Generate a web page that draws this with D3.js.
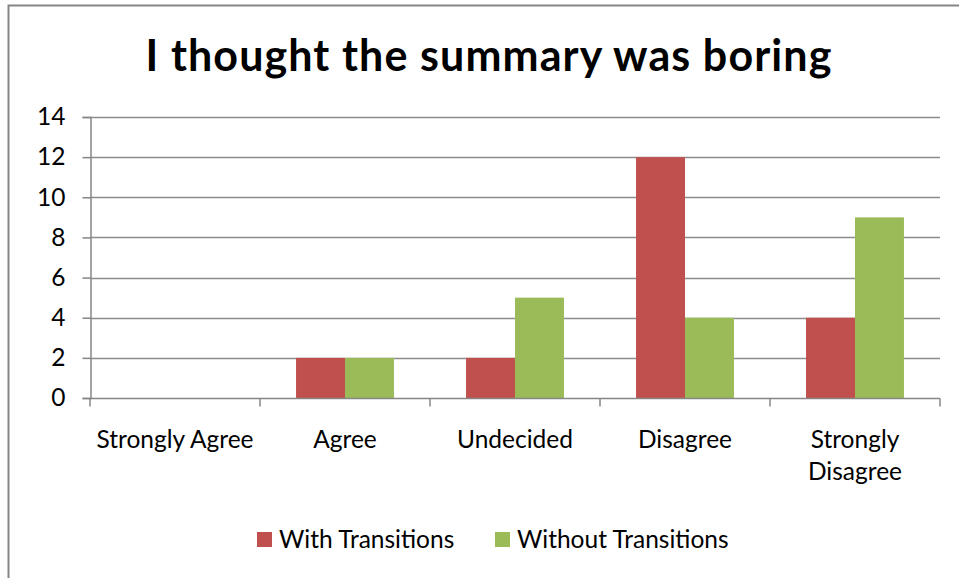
<!DOCTYPE html>
<html>
<head>
<script src="https://d3js.org/d3.v7.min.js"></script>
<style>
  body { margin: 0; background: #fff; }
  text { font-family: Lato, "Open Sans", sans-serif; fill: #000; }
</style>
</head>
<body>
<svg id="chart" width="959" height="578"></svg>
<script>
const categories = ["Strongly Agree", "Agree", "Undecided", "Disagree", "Strongly Disagree"];
const seriesNames = ["With Transitions", "Without Transitions"];
const withTransitions = [0, 2, 2, 12, 4];
const withoutTransitions = [0, 2, 5, 4, 9];
const yTicks = [0, 2, 4, 6, 8, 10, 12, 14];
const colors = ["#c0504d", "#9bbb59"];

const svg = d3.select("#chart");
const margin = { top: 117, right: 19, bottom: 180, left: 90 };
const width = 959, height = 578;
const labelSize = 24.5;

// outer chart border (runs off the canvas on right and bottom)
svg.append("rect")
    .attr("x", 8.5).attr("y", 5.5)
    .attr("width", 980).attr("height", 600)
    .attr("fill", "none").attr("stroke", "#868686").attr("stroke-width", 2);

svg.append("text")
    .attr("x", 489).attr("y", 71)
    .attr("text-anchor", "middle")
    .attr("font-size", 43).attr("font-weight", "bold")
    .attr("letter-spacing", 1.1)
    .text("I thought the summary was boring");

const x0 = d3.scaleBand().domain(categories)
    .range([margin.left, width - margin.right])
    .paddingInner(0.424).paddingOuter(0.212);
const x1 = d3.scaleBand().domain(seriesNames).range([0, x0.bandwidth()]);
const y = d3.scaleLinear().domain([0, 14]).range([height - margin.bottom, margin.top]);

// gridlines
svg.append("g").selectAll("line").data(yTicks.slice(1)).join("line")
    .attr("x1", margin.left).attr("x2", width - margin.right)
    .attr("y1", d => Math.round(y(d)) + 0.5).attr("y2", d => Math.round(y(d)) + 0.5)
    .attr("stroke", "#8c8c8c").attr("stroke-width", 1.5);

// bars
const rows = categories.map((c, i) => ({ cat: c, vals: [withTransitions[i], withoutTransitions[i]] }));
const groups = svg.append("g").selectAll("g").data(rows).join("g")
    .attr("transform", d => `translate(${x0(d.cat)},0)`);
groups.selectAll("rect").data(d => d.vals.map((v, k) => ({ key: seriesNames[k], v, k }))).join("rect")
    .attr("x", d => x1(d.key)).attr("width", x1.bandwidth())
    .attr("y", d => y(d.v)).attr("height", d => y(0) - y(d.v))
    .attr("fill", d => colors[d.k]);

// y axis
const yAxis = svg.append("g").attr("transform", `translate(${margin.left + 0.5},0)`)
    .call(d3.axisLeft(y).tickValues(yTicks).tickSize(8).tickPadding(17));
yAxis.select(".domain").attr("stroke", "#868686").attr("stroke-width", 1.5);
yAxis.selectAll(".tick line").attr("stroke", "#868686").attr("stroke-width", 1.5);
yAxis.selectAll(".tick text").attr("font-size", labelSize).attr("font-family", "Lato, sans-serif").attr("fill", "#000");

// x axis
const xAxisG = svg.append("g").attr("transform", `translate(0,${Math.round(y(0)) + 0.5})`);
xAxisG.append("line").attr("x1", margin.left).attr("x2", width - margin.right)
    .attr("stroke", "#868686").attr("stroke-width", 1.5);
const step = x0.step();
const bounds = d3.range(categories.length + 1).map(i => margin.left + i * step);
xAxisG.selectAll(".xt").data(bounds).join("line").attr("class", "xt")
    .attr("x1", d => d).attr("x2", d => d).attr("y1", 0).attr("y2", 8)
    .attr("stroke", "#868686").attr("stroke-width", 1.5);
xAxisG.selectAll(".xl").data(categories).join("text").attr("class", "xl")
    .attr("text-anchor", "middle").attr("font-size", labelSize)
    .attr("transform", d => `translate(${x0(d) + x0.bandwidth() / 2},49)`)
    .each(function(d) {
        const t = d3.select(this);
        const lines = d === "Strongly Disagree" ? ["Strongly", "Disagree"] : [d];
        lines.forEach((ln, i) => t.append("tspan").attr("x", 0).attr("y", i * 32).text(ln));
    });

// legend
const legendX = [257, 495];
const leg = svg.append("g").selectAll("g").data(seriesNames).join("g")
    .attr("transform", (d, i) => `translate(${legendX[i]},532)`);
leg.append("rect").attr("width", 15).attr("height", 15).attr("fill", (d, i) => colors[i]);
leg.append("text").attr("x", 22).attr("y", 16).attr("font-size", labelSize).text(d => d);
</script>
</body>
</html>
